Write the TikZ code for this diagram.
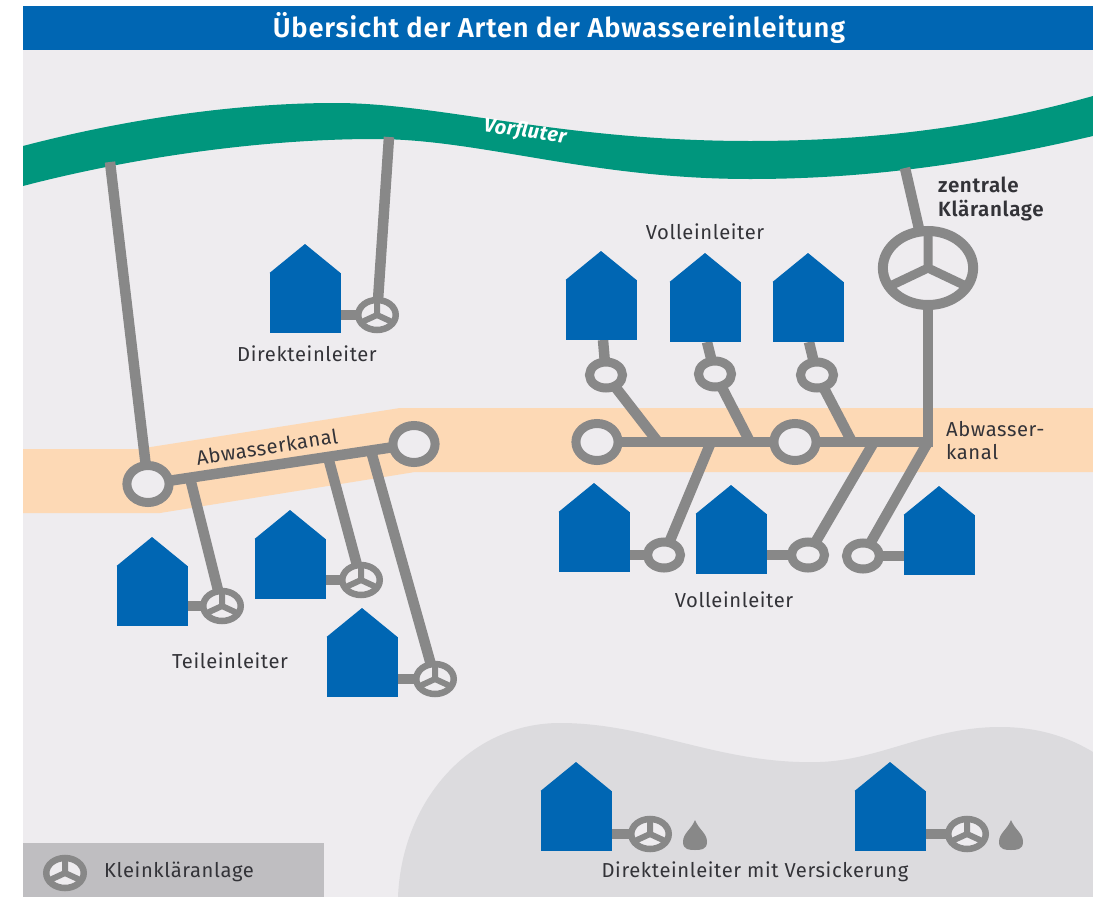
\documentclass[tikz,border=0pt]{standalone}
\usepackage{fontspec}
\setmainfont{Fira Sans}
\newfontfamily\lsfont[LetterSpace=3]{Fira Sans}
\newfontfamily\titlefont[LetterSpace=3]{Fira Sans SemiBold}
\definecolor{panel}{HTML}{EEECEF}
\definecolor{headblue}{HTML}{0066B3}
\definecolor{river}{HTML}{00967D}
\definecolor{peach}{HTML}{FDD9B5}
\definecolor{pipe}{HTML}{888888}
\definecolor{blob}{HTML}{DCDBDE}
\definecolor{legendbox}{HTML}{BFBEC1}
\definecolor{txt}{HTML}{333338}
\pgfdeclarelayer{ground}
\pgfdeclarelayer{pipes}
\pgfsetlayers{ground,pipes,main}
\tikzset{
  pipeline/.style={draw=pipe,line width=10.5pt},
  housebox/.style={fill=headblue,inner sep=0pt,outer sep=0pt,minimum width=71pt,minimum height=60pt,anchor=south,
    append after command={\pgfextra{\fill[headblue] (\tikzlastnode.north west) -- ++(35.5,-29) -- (\tikzlastnode.north east) -- cycle;}}},
  wheel/.style={circle,draw=pipe,fill=panel,line width=6.5pt,inner sep=0pt,outer sep=0pt,minimum size=30pt,xscale=1.25,
    path picture={\draw[pipe,line width=6pt] (path picture bounding box.center) -- ++(0,-30) (path picture bounding box.center) -- ++(-26,15) (path picture bounding box.center) -- ++(26,15);}},
  bigwheel/.style={circle,draw=pipe,fill=panel,line width=10pt,inner sep=0pt,outer sep=0pt,minimum size=74pt,xscale=1.22,
    path picture={\draw[pipe,line width=9pt] (path picture bounding box.center) -- ++(0,-80) (path picture bounding box.center) -- ++(-69,40) (path picture bounding box.center) -- ++(69,40);}},
  shaft/.style={circle,draw=pipe,fill=panel,line width=9pt,inner sep=0pt,outer sep=0pt,minimum size=26pt,xscale=1.27},
  manhole/.style={circle,draw=pipe,fill=panel,line width=9pt,inner sep=0pt,outer sep=0pt,minimum size=37pt,xscale=1.14},
  label/.style={inner sep=0pt,text=txt,font=\lsfont\fontsize{20.2}{23}\selectfont},
  droplet/.style={fill=pipe}
}
\begin{document}
\begin{tikzpicture}[x=1pt,y=-1pt]
\useasboundingbox (0,0) rectangle (1093,897);
\begin{pgfonlayer}{ground}
\fill[white] (0,0) rectangle (1093,897);
\fill[panel] (23,6) rectangle (1093,897);
% river
\fill[river] (23,146) .. controls (130,118) and (240,103) .. (335,103)
  .. controls (440,103) and (560,141) .. (750,141)
  .. controls (880,141) and (990,125) .. (1093,96)
  -- (1093,136) .. controls (990,160) and (880,179) .. (750,179)
  .. controls (590,179) and (480,139) .. (375,139)
  .. controls (260,139) and (130,158) .. (23,186) -- cycle;
% sewer band
\fill[peach] (23,449) -- (138,449) -- (400,408) -- (1093,408) -- (1093,472) -- (415,472) -- (160,513) -- (23,513) -- cycle;
% infiltration ground
\fill[blob] (398,897) .. controls (402,800) and (470,723) .. (560,723)
  .. controls (650,723) and (720,765) .. (820,762)
  .. controls (880,760) and (930,727) .. (1000,727)
  .. controls (1040,727) and (1070,738) .. (1093,752) -- (1093,897) -- cycle;
\fill[legendbox] (23,843) rectangle (324,897);
\end{pgfonlayer}
% header
\node[fill=headblue,inner sep=0pt,outer sep=0pt,minimum width=1070pt,minimum height=44pt,anchor=north west] (head) at (23,6) {};
\node[inner sep=0pt,text=white,font=\titlefont\fontsize{27.3}{30}\selectfont] (title) at (559,28) {Übersicht der Arten der Abwassereinleitung};
% houses
\node[housebox] (hd) at (305,333) {};
\node[housebox] (v1) at (601,340) {};
\node[housebox] (v2) at (705,342) {};
\node[housebox] (v3) at (808,342) {};
\node[housebox] (v4) at (594,572) {};
\node[housebox] (v5) at (731,574) {};
\node[housebox] (v6) at (939,575) {};
\node[housebox] (t1) at (152,626) {};
\node[housebox] (t2) at (290,599) {};
\node[housebox] (t3) at (362,697) {};
\node[housebox] (b1) at (576,851) {};
\node[housebox] (b2) at (890,851) {};
% small treatment plants
\node[wheel] (wd) at (377,315) {};
\node[wheel] (w1) at (222,606) {};
\node[wheel] (w2) at (361,580) {};
\node[wheel] (w3) at (435,679) {};
\node[wheel] (w4) at (650,834) {};
\node[wheel] (w5) at (967,834) {};
\node[wheel] (wl) at (65,873) {};
% central plant
\node[bigwheel] (kl) at (928,268) {};
% shafts
\node[shaft] (s1) at (606,375) {};
\node[shaft] (s2) at (715,374) {};
\node[shaft] (s3) at (817,375) {};
\node[shaft] (s4) at (664,555) {};
\node[shaft] (s5) at (808,555) {};
\node[shaft] (s6) at (863,556) {};
\node[manhole] (m1) at (597,442) {};
\node[manhole] (m2) at (795,442) {};
\node[manhole] (m3) at (148,484) {};
\node[manhole] (m4) at (414,444) {};
% free pipe ends and junctions
\coordinate (rl) at (110,162);
\coordinate (rm) at (389,137);
\coordinate (rr) at (905,168);
\coordinate (j0) at (928,442);
\coordinate (j1) at (658,442);
\coordinate (j2) at (750,442);
\coordinate (j3) at (852,442);
\coordinate (j4) at (711,442);
\coordinate (j5) at (874,442);
\coordinate (k1) at (190,478);
\coordinate (k2) at (328,457);
\coordinate (k3) at (371,451);
\begin{pgfonlayer}{pipes}
\draw[pipeline] (rl) -- (m3);
\draw[pipeline] (rm) -- (wd);
\draw[pipeline] (rr) -- (kl);
\draw[pipeline] (kl) -- (j0);
\draw[pipeline] (m3) -- (m4);
\draw[pipeline] (m1) -- (m2);
\draw[pipeline] (m2) -- ([xshift=5pt]j0);
\draw[pipeline] (k1) -- (w1);
\draw[pipeline] (k2) -- (w2);
\draw[pipeline] (k3) -- (w3);
\draw[pipeline] (s1) -- (j1);
\draw[pipeline] (s2) -- (j2);
\draw[pipeline] (s3) -- (j3);
\draw[pipeline] (s4) -- (j4);
\draw[pipeline] (s5) -- (j5);
\draw[pipeline] (s6) -- (j0);
\draw[pipeline] (hd.east |- wd) -- (wd);
\draw[pipeline] (t1.east |- w1) -- (w1);
\draw[pipeline] (t2.east |- w2) -- (w2);
\draw[pipeline] (t3.east |- w3) -- (w3);
\draw[pipeline] (b1.east |- w4) -- (w4);
\draw[pipeline] (b2.east |- w5) -- (w5);
\draw[pipeline] (v4.east |- s4) -- (s4);
\draw[pipeline] (v5.east |- s5) -- (s5);
\draw[pipeline] (v6.west |- s6) -- (s6);
\draw[pipeline] (v1.south -| 603,0) -- (s1);
\draw[pipeline] (v2.south -| 707,0) -- (s2);
\draw[pipeline] (v3.south -| 809,0) -- (s3);
\end{pgfonlayer}
% drops
\fill[droplet] (695,820) .. controls (699,830) and (707,833) .. (707,842) .. controls (707,850) and (700,850) .. (695,850) .. controls (690,850) and (683,850) .. (683,842) .. controls (683,833) and (691,830) .. (695,820) -- cycle;
\fill[droplet] (1011,820) .. controls (1015,830) and (1023,833) .. (1023,842) .. controls (1023,850) and (1016,850) .. (1011,850) .. controls (1006,850) and (999,850) .. (999,842) .. controls (999,833) and (1007,830) .. (1011,820) -- cycle;
% labels
\node[inner sep=0pt,text=white,rotate=-8,font=\lsfont\bfseries\itshape\fontsize{20}{24}\selectfont] (lvor) at (525,132) {Vorf{}luter};
\node[label,rotate=9] (labw) at (267,447) {Abwasserkanal};
\node[label] (ldir) at (307,354) {Direkteinleiter};
\node[label] (lvo1) at (705,232) {Volleinleiter};
\node[label] (lvo2) at (734,600) {Volleinleiter};
\node[label] (ltei) at (230,661) {Teileinleiter};
\node[label,anchor=west] (lkle) at (104,872) {Kleinkläranlage};
\node[label] (lver) at (755,872) {Direkteinleiter mit Versickerung};
\node[label,anchor=west,align=left] (lka) at (946,441) {Abwasser-\\kanal};
\node[label,anchor=west,align=left,font=\titlefont\fontsize{20.6}{24}\selectfont] (lzk) at (938,199) {zentrale\\Kläranlage};
\end{tikzpicture}
\end{document}
